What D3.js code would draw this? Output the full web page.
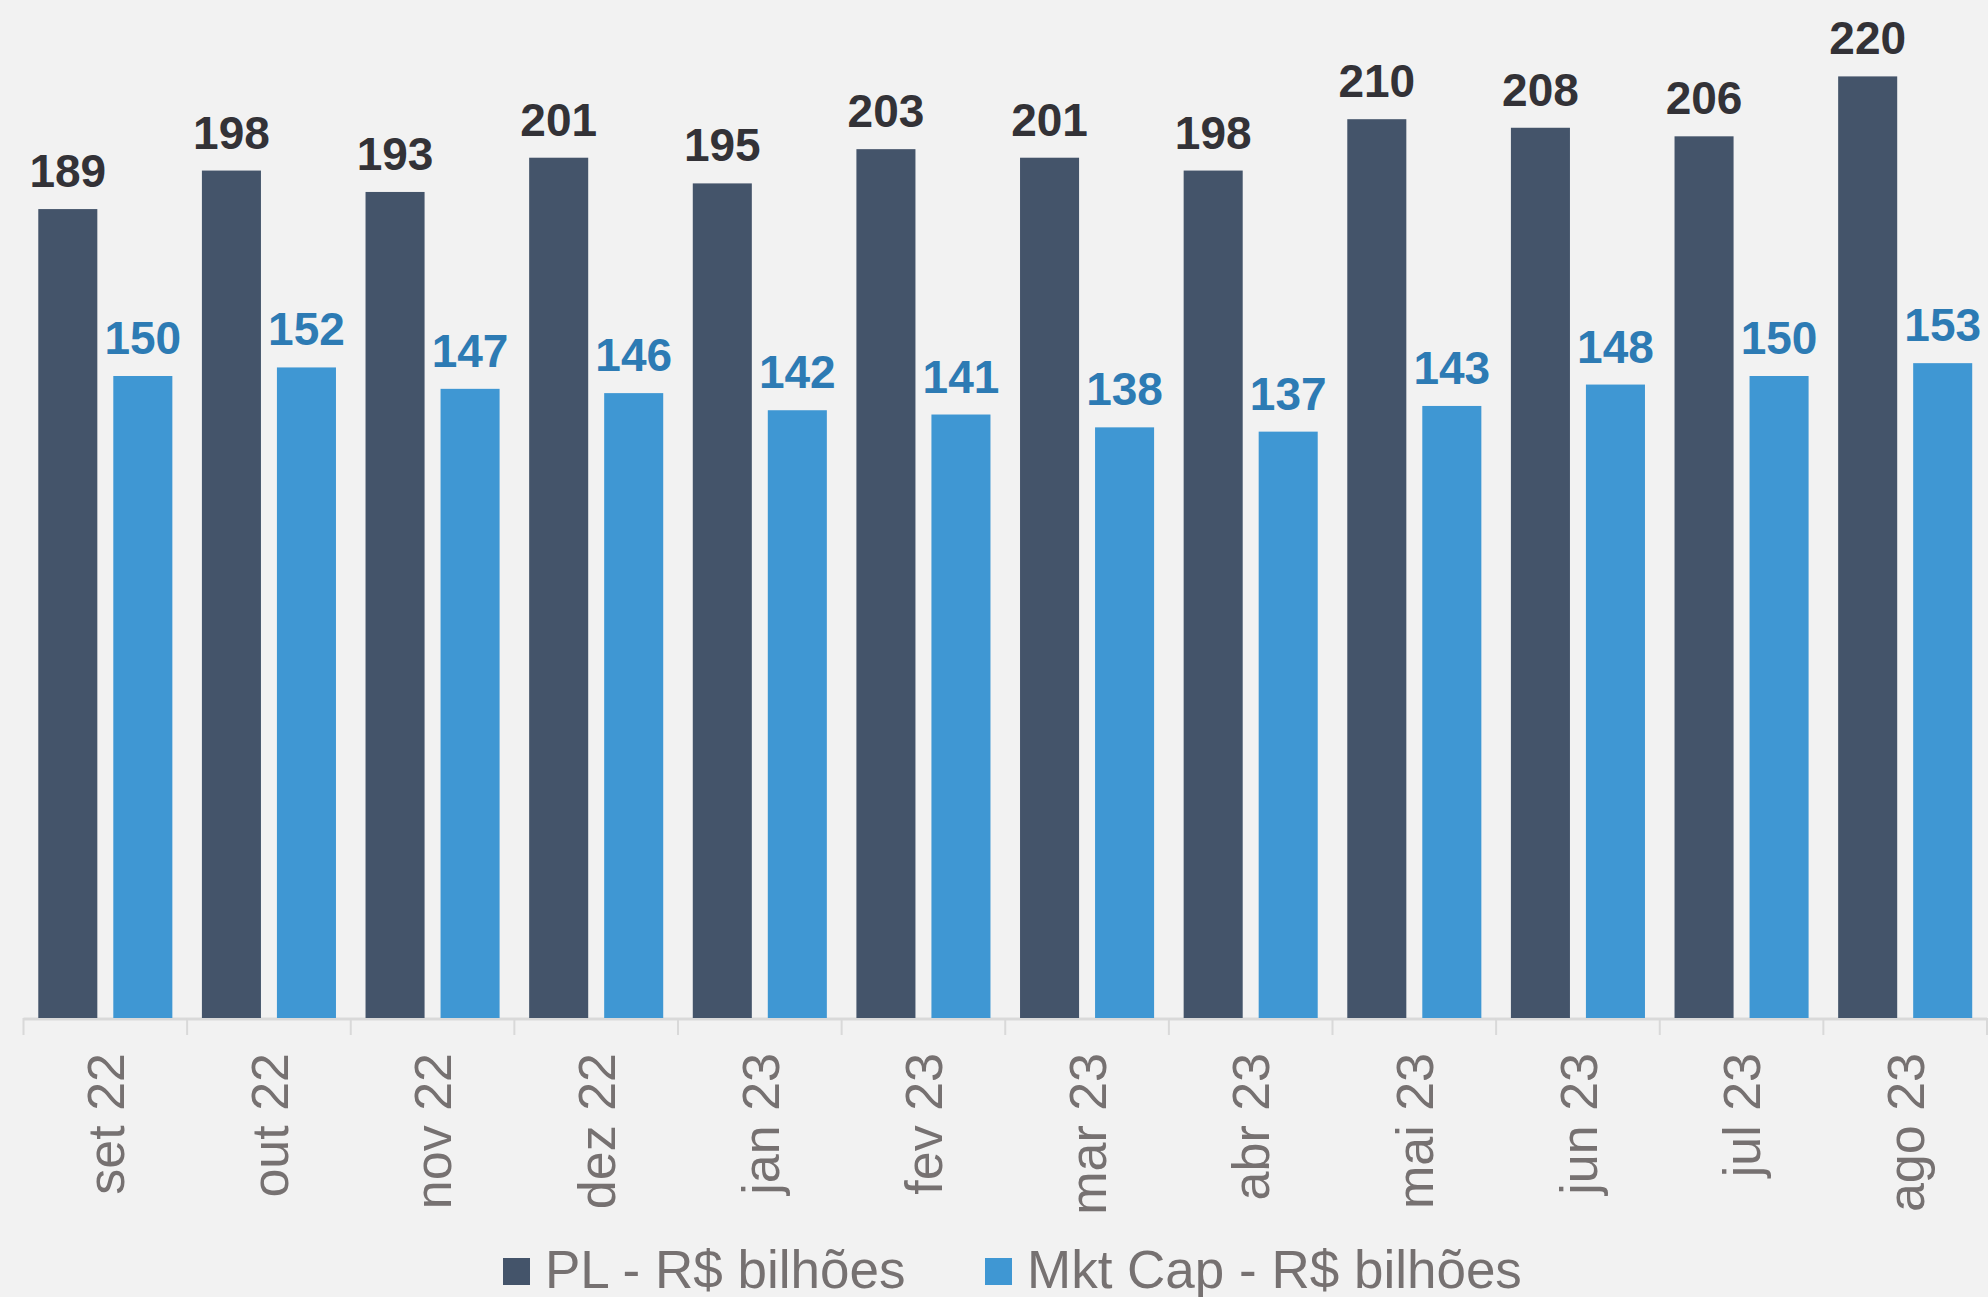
<!DOCTYPE html>
<html>
<head>
<meta charset="utf-8">
<script src="https://cdn.jsdelivr.net/npm/d3@7"></script>
<style>
  html, body { margin: 0; padding: 0; background: #f2f2f2; }
  svg { display: block; font-family: "Liberation Sans", Arial, sans-serif; }
</style>
</head>
<body>
<div id="chart"></div>
<script>
const months = ["set 22", "out 22", "nov 22", "dez 22", "jan 23", "fev 23", "mar 23", "abr 23", "mai 23", "jun 23", "jul 23", "ago 23"]
const series_names = ["PL - R$ bilhões", "Mkt Cap - R$ bilhões"]
const pl_values = [189, 198, 193, 201, 195, 203, 201, 198, 210, 208, 206, 220]
const mktcap_values = [150, 152, 147, 146, 142, 141, 138, 137, 143, 148, 150, 153]

const width = 1988
const height = 1297
const baseline = 1018
const bar_colours = ["#44546a", "#3f97d3"]
const label_colours = ["#333237", "#2d7bb4"]
const text_grey = "#767171"

var rows = months.map((m, i) => ({month: m, values: [pl_values[i], mktcap_values[i]]}))

var svg = d3.select("#chart")
	.append("svg")
	.attr("width", width)
	.attr("height", height)

svg.append("rect")
	.attr("width", width)
	.attr("height", height)
	.attr("fill", "#f2f2f2")

var x0 = d3.scaleBand()
	.domain(months)
	.range([23.5, 1987])
	.padding(0)

var x1 = d3.scaleBand()
	.domain([0, 1])
	.range([0, x0.bandwidth()])
	.paddingInner(0.213)
	.paddingOuter(0.197)

var y = d3.scaleLinear()
	.domain([0, 1018/4.28])
	.range([baseline, 0])

// category axis: light line with ticks between groups
var axis = svg.append("g")
	.attr("transform", `translate(0,${baseline})`)
	.call(d3.axisBottom(x0).tickSize(0).tickFormat(""))
axis.select(".domain").remove()
axis.append("line")
	.attr("x1", x0.range()[0]).attr("x2", x0.range()[1])
	.attr("y1", 1).attr("y2", 1)
	.attr("stroke", "#d9d9d9").attr("stroke-width", 3)
axis.selectAll(".sep")
	.data(months.concat(["end"]))
	.enter().append("line")
	.attr("class", "sep")
	.attr("x1", (d, i) => x0.range()[0] + i*x0.step())
	.attr("x2", (d, i) => x0.range()[0] + i*x0.step())
	.attr("y1", 0).attr("y2", 17)
	.attr("stroke", "#d9d9d9").attr("stroke-width", 2)

// month labels, rotated
svg.selectAll(".mlabel")
	.data(months)
	.enter().append("text")
	.attr("class", "mlabel")
	.attr("transform", d => `translate(${x0(d) + x0.bandwidth()/2},1053) rotate(-90)`)
	.attr("dy", "0.36em")
	.attr("text-anchor", "end")
	.attr("font-size", "52px")
	.attr("fill", text_grey)
	.text(d => d)

var groups = svg.selectAll(".grp")
	.data(rows)
	.enter().append("g")
	.attr("class", "grp")
	.attr("transform", d => `translate(${x0(d.month)},0)`)

groups.selectAll("rect")
	.data(d => d.values.map((v, k) => ({k: k, v: v})))
	.enter().append("rect")
	.attr("x", d => x1(d.k))
	.attr("width", x1.bandwidth())
	.attr("y", d => y(d.v))
	.attr("height", d => baseline - y(d.v))
	.attr("fill", d => bar_colours[d.k])

groups.selectAll(".vlabel")
	.data(d => d.values.map((v, k) => ({k: k, v: v})))
	.enter().append("text")
	.attr("class", "vlabel")
	.attr("x", d => x1(d.k) + x1.bandwidth()/2)
	.attr("y", d => y(d.v) - 22)
	.attr("text-anchor", "middle")
	.attr("font-size", "46px")
	.attr("font-weight", "bold")
	.attr("fill", d => label_colours[d.k])
	.text(d => d.v)

// legend
var legend_x = [503, 985]
var legend = svg.selectAll(".leg")
	.data(series_names)
	.enter().append("g")
	.attr("class", "leg")
	.attr("transform", (d, i) => `translate(${legend_x[i]},1258)`)
legend.append("rect")
	.attr("width", 27).attr("height", 27)
	.attr("fill", (d, i) => bar_colours[i])
legend.append("text")
	.attr("x", 42)
	.attr("y", 30)
	.attr("font-size", "53px")
	.attr("fill", text_grey)
	.text(d => d)
</script>
</body>
</html>
